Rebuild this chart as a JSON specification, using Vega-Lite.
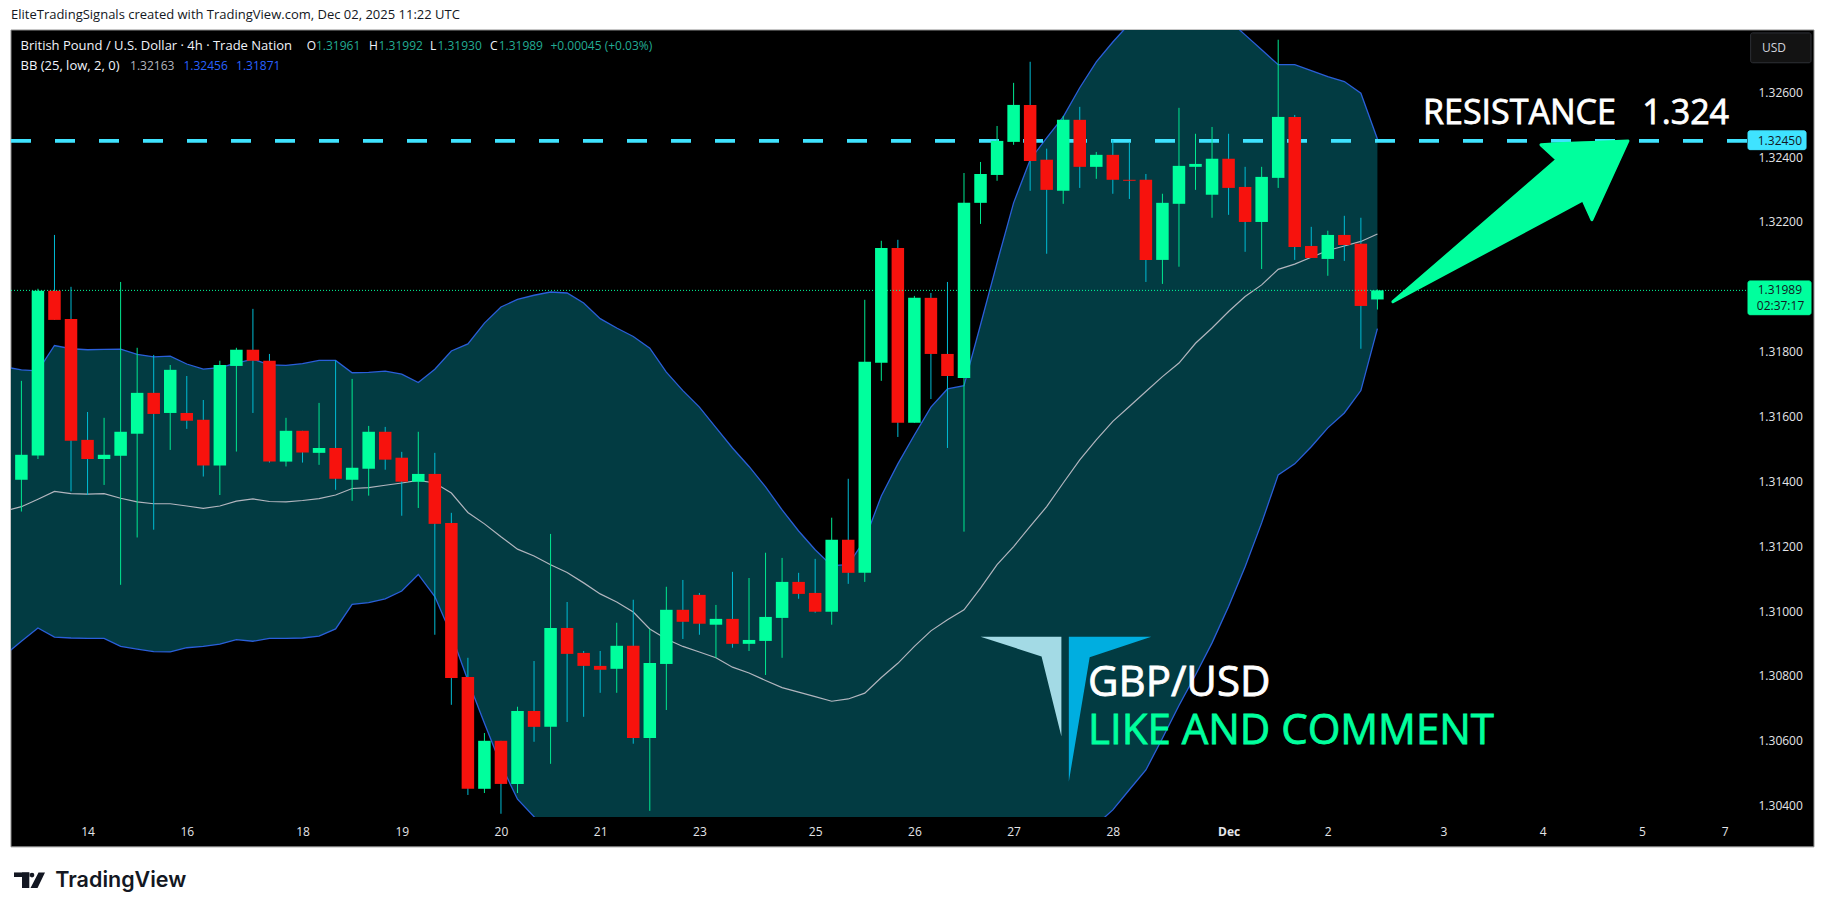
{
  "$schema": "https://vega.github.io/schema/vega-lite/v6.json",
  "description": "GBP/USD 4h candles with Bollinger Bands",
  "width": 1737,
  "height": 787,
  "autosize": "none",
  "padding": {"left": 11, "top": 30, "right": 78, "bottom": 97},
  "background": "#ffffff",
  "title": {
    "text": "EliteTradingSignals created with TradingView.com, Dec 02, 2025 11:22 UTC",
    "anchor": "start", "frame": "group", "fontSize": 13, "fontWeight": "normal",
    "font": "Open Sans", "color": "#131722", "offset": 8
  },
  "config": {"view": {"stroke": null}},
  "resolve": {"scale": {"color": "independent", "stroke": "independent"}},
  "datasets": {
    "panel": [{"i": -0.629, "i2": 108.4, "top": 1.32792, "bot": 1.30273}],
    "candles": [
      {"i":0,"open":1.31405,"high":1.3171,"low":1.31307,"close":1.31482},
      {"i":1,"open":1.3148,"high":1.31994,"low":1.31469,"close":1.31988},
      {"i":2,"open":1.31988,"high":1.3216,"low":1.31898,"close":1.31898},
      {"i":3,"open":1.31901,"high":1.32,"low":1.31369,"close":1.31525},
      {"i":4,"open":1.31528,"high":1.31614,"low":1.31358,"close":1.31469},
      {"i":5,"open":1.31469,"high":1.31596,"low":1.31389,"close":1.31482},
      {"i":6,"open":1.31479,"high":1.32015,"low":1.31081,"close":1.31553},
      {"i":7,"open":1.31547,"high":1.31812,"low":1.31227,"close":1.31673},
      {"i":8,"open":1.31673,"high":1.3179,"low":1.31251,"close":1.31608},
      {"i":9,"open":1.31611,"high":1.31759,"low":1.31497,"close":1.31744},
      {"i":10,"open":1.31611,"high":1.31725,"low":1.31562,"close":1.31587},
      {"i":11,"open":1.3159,"high":1.31651,"low":1.31415,"close":1.31449},
      {"i":12,"open":1.31449,"high":1.31772,"low":1.31358,"close":1.31759},
      {"i":13,"open":1.31756,"high":1.31812,"low":1.31492,"close":1.31806},
      {"i":14,"open":1.31806,"high":1.31932,"low":1.31611,"close":1.31772},
      {"i":15,"open":1.31772,"high":1.31793,"low":1.31458,"close":1.31461},
      {"i":16,"open":1.31461,"high":1.31596,"low":1.31446,"close":1.31556},
      {"i":17,"open":1.31556,"high":1.31556,"low":1.31458,"close":1.31489},
      {"i":18,"open":1.31488,"high":1.31642,"low":1.31451,"close":1.31503},
      {"i":19,"open":1.31503,"high":1.31773,"low":1.31374,"close":1.31408},
      {"i":20,"open":1.31405,"high":1.31716,"low":1.3134,"close":1.31442},
      {"i":21,"open":1.31439,"high":1.31571,"low":1.31356,"close":1.31553},
      {"i":22,"open":1.31553,"high":1.31568,"low":1.31436,"close":1.31467},
      {"i":23,"open":1.31473,"high":1.31491,"low":1.31294,"close":1.31399},
      {"i":24,"open":1.31399,"high":1.31553,"low":1.31318,"close":1.31423},
      {"i":25,"open":1.31423,"high":1.31488,"low":1.30927,"close":1.31269},
      {"i":26,"open":1.31272,"high":1.31303,"low":1.30711,"close":1.30794},
      {"i":27,"open":1.30797,"high":1.30856,"low":1.30433,"close":1.30452},
      {"i":28,"open":1.30452,"high":1.30624,"low":1.30439,"close":1.306},
      {"i":29,"open":1.306,"high":1.306,"low":1.30375,"close":1.30467},
      {"i":30,"open":1.30467,"high":1.30705,"low":1.30439,"close":1.30692},
      {"i":31,"open":1.30692,"high":1.30846,"low":1.30597,"close":1.30643},
      {"i":32,"open":1.30643,"high":1.31238,"low":1.30529,"close":1.30948},
      {"i":33,"open":1.30948,"high":1.31028,"low":1.30658,"close":1.30868},
      {"i":34,"open":1.30871,"high":1.30877,"low":1.30674,"close":1.30831},
      {"i":35,"open":1.30831,"high":1.30877,"low":1.30748,"close":1.30819},
      {"i":36,"open":1.30822,"high":1.30964,"low":1.30748,"close":1.30893},
      {"i":37,"open":1.30893,"high":1.31035,"low":1.30591,"close":1.30609},
      {"i":38,"open":1.30609,"high":1.30945,"low":1.30384,"close":1.3084},
      {"i":39,"open":1.30837,"high":1.31075,"low":1.30695,"close":1.31004},
      {"i":40,"open":1.31004,"high":1.31096,"low":1.30914,"close":1.30967},
      {"i":41,"open":1.3105,"high":1.31056,"low":1.30927,"close":1.30961},
      {"i":42,"open":1.30958,"high":1.31019,"low":1.30856,"close":1.30976},
      {"i":43,"open":1.30976,"high":1.31121,"low":1.30887,"close":1.30899},
      {"i":44,"open":1.30899,"high":1.31102,"low":1.30877,"close":1.30911},
      {"i":45,"open":1.30908,"high":1.3118,"low":1.30803,"close":1.30982},
      {"i":46,"open":1.30979,"high":1.31164,"low":1.30856,"close":1.3109},
      {"i":47,"open":1.3109,"high":1.31118,"low":1.31038,"close":1.31053},
      {"i":48,"open":1.31056,"high":1.31161,"low":1.30995,"close":1.30998},
      {"i":49,"open":1.30998,"high":1.31288,"low":1.30958,"close":1.3122},
      {"i":50,"open":1.3122,"high":1.31408,"low":1.31084,"close":1.31118},
      {"i":51,"open":1.31118,"high":1.3196,"low":1.3109,"close":1.31769},
      {"i":52,"open":1.31766,"high":1.32142,"low":1.3171,"close":1.3212},
      {"i":53,"open":1.3212,"high":1.32145,"low":1.31537,"close":1.31581},
      {"i":54,"open":1.31581,"high":1.31972,"low":1.31581,"close":1.31966},
      {"i":55,"open":1.31966,"high":1.31981,"low":1.31654,"close":1.31793},
      {"i":56,"open":1.31793,"high":1.32015,"low":1.31503,"close":1.31725},
      {"i":57,"open":1.31719,"high":1.32351,"low":1.31245,"close":1.32259},
      {"i":58,"open":1.32259,"high":1.32385,"low":1.32194,"close":1.32348},
      {"i":59,"open":1.32345,"high":1.32496,"low":1.32327,"close":1.3245},
      {"i":60,"open":1.32447,"high":1.32629,"low":1.32438,"close":1.32561},
      {"i":61,"open":1.32561,"high":1.32694,"low":1.32296,"close":1.32388},
      {"i":62,"open":1.32392,"high":1.32426,"low":1.32102,"close":1.32299},
      {"i":63,"open":1.32296,"high":1.32527,"low":1.32256,"close":1.32515},
      {"i":64,"open":1.32515,"high":1.32555,"low":1.32305,"close":1.3237},
      {"i":65,"open":1.3237,"high":1.32416,"low":1.32333,"close":1.32407},
      {"i":66,"open":1.32407,"high":1.32453,"low":1.32287,"close":1.3233},
      {"i":67,"open":1.3233,"high":1.32444,"low":1.32271,"close":1.32327},
      {"i":68,"open":1.3233,"high":1.32348,"low":1.32015,"close":1.32083},
      {"i":69,"open":1.32083,"high":1.32287,"low":1.32009,"close":1.32259},
      {"i":70,"open":1.32256,"high":1.32552,"low":1.32062,"close":1.32373},
      {"i":71,"open":1.3237,"high":1.32472,"low":1.32299,"close":1.32379},
      {"i":72,"open":1.32284,"high":1.32493,"low":1.32213,"close":1.32395},
      {"i":73,"open":1.32395,"high":1.32472,"low":1.32222,"close":1.32305},
      {"i":74,"open":1.32308,"high":1.3237,"low":1.32108,"close":1.322},
      {"i":75,"open":1.322,"high":1.3237,"low":1.32055,"close":1.32339},
      {"i":76,"open":1.32336,"high":1.32762,"low":1.32305,"close":1.32524},
      {"i":77,"open":1.32524,"high":1.3253,"low":1.32083,"close":1.32123},
      {"i":78,"open":1.32126,"high":1.32185,"low":1.32089,"close":1.32089},
      {"i":79,"open":1.32086,"high":1.32173,"low":1.32034,"close":1.3216},
      {"i":80,"open":1.3216,"high":1.32219,"low":1.3208,"close":1.32129},
      {"i":81,"open":1.32133,"high":1.32213,"low":1.31809,"close":1.31941},
      {"i":82,"open":1.31961,"high":1.31992,"low":1.3193,"close":1.31989}
    ],
    "bb": [
      {"i":-1,"upper":1.31753,"basis":1.31309,"lower":1.30865},
      {"i":0,"upper":1.31744,"basis":1.31322,"lower":1.30907},
      {"i":1,"upper":1.31741,"basis":1.31345,"lower":1.30948},
      {"i":2,"upper":1.31819,"basis":1.31369,"lower":1.3092},
      {"i":3,"upper":1.31809,"basis":1.31362,"lower":1.30917},
      {"i":4,"upper":1.31806,"basis":1.31361,"lower":1.30916},
      {"i":5,"upper":1.31807,"basis":1.31362,"lower":1.30916},
      {"i":6,"upper":1.31808,"basis":1.31348,"lower":1.30891},
      {"i":7,"upper":1.31792,"basis":1.31337,"lower":1.30883},
      {"i":8,"upper":1.31784,"basis":1.31331,"lower":1.30875},
      {"i":9,"upper":1.31786,"basis":1.31331,"lower":1.30874},
      {"i":10,"upper":1.31762,"basis":1.31324,"lower":1.30887},
      {"i":11,"upper":1.31746,"basis":1.31317,"lower":1.30891},
      {"i":12,"upper":1.31751,"basis":1.31324,"lower":1.30898},
      {"i":13,"upper":1.31765,"basis":1.31339,"lower":1.30912},
      {"i":14,"upper":1.31777,"basis":1.31346,"lower":1.30907},
      {"i":15,"upper":1.31759,"basis":1.31338,"lower":1.30916},
      {"i":16,"upper":1.31758,"basis":1.31337,"lower":1.30916},
      {"i":17,"upper":1.31763,"basis":1.31341,"lower":1.30917},
      {"i":18,"upper":1.31773,"basis":1.31347,"lower":1.30923},
      {"i":19,"upper":1.31773,"basis":1.31358,"lower":1.30945},
      {"i":20,"upper":1.31735,"basis":1.31378,"lower":1.31021},
      {"i":21,"upper":1.31736,"basis":1.31381,"lower":1.31026},
      {"i":22,"upper":1.3174,"basis":1.31388,"lower":1.31038},
      {"i":23,"upper":1.31731,"basis":1.31395,"lower":1.31062},
      {"i":24,"upper":1.31705,"basis":1.31403,"lower":1.31113},
      {"i":25,"upper":1.31746,"basis":1.31395,"lower":1.31045},
      {"i":26,"upper":1.31802,"basis":1.31364,"lower":1.30927},
      {"i":27,"upper":1.31824,"basis":1.31304,"lower":1.30786},
      {"i":28,"upper":1.31888,"basis":1.31269,"lower":1.30654},
      {"i":29,"upper":1.31938,"basis":1.31229,"lower":1.30526},
      {"i":30,"upper":1.31961,"basis":1.31191,"lower":1.3042},
      {"i":31,"upper":1.31974,"basis":1.3117,"lower":1.30366},
      {"i":32,"upper":1.31984,"basis":1.31143,"lower":1.30301},
      {"i":33,"upper":1.31981,"basis":1.31119,"lower":1.30257},
      {"i":34,"upper":1.3195,"basis":1.31087,"lower":1.30224},
      {"i":35,"upper":1.31902,"basis":1.31053,"lower":1.30205},
      {"i":36,"upper":1.31873,"basis":1.31028,"lower":1.30183},
      {"i":37,"upper":1.31847,"basis":1.30997,"lower":1.30146},
      {"i":38,"upper":1.31811,"basis":1.30945,"lower":1.30079},
      {"i":39,"upper":1.31737,"basis":1.30914,"lower":1.30091},
      {"i":40,"upper":1.3168,"basis":1.30891,"lower":1.301},
      {"i":41,"upper":1.31629,"basis":1.30874,"lower":1.30119},
      {"i":42,"upper":1.31566,"basis":1.30856,"lower":1.30146},
      {"i":43,"upper":1.31503,"basis":1.30827,"lower":1.3015},
      {"i":44,"upper":1.31446,"basis":1.30809,"lower":1.30171},
      {"i":45,"upper":1.31383,"basis":1.30786,"lower":1.3019},
      {"i":46,"upper":1.31312,"basis":1.30764,"lower":1.30217},
      {"i":47,"upper":1.31247,"basis":1.3075,"lower":1.30251},
      {"i":48,"upper":1.31189,"basis":1.30736,"lower":1.30285},
      {"i":49,"upper":1.3114,"basis":1.30722,"lower":1.30307},
      {"i":50,"upper":1.31143,"basis":1.30729,"lower":1.30316},
      {"i":51,"upper":1.3122,"basis":1.30747,"lower":1.30276},
      {"i":52,"upper":1.31355,"basis":1.30795,"lower":1.30236},
      {"i":53,"upper":1.31454,"basis":1.30839,"lower":1.30227},
      {"i":54,"upper":1.31543,"basis":1.30891,"lower":1.30239},
      {"i":55,"upper":1.31629,"basis":1.30939,"lower":1.30248},
      {"i":56,"upper":1.31685,"basis":1.30973,"lower":1.3026},
      {"i":57,"upper":1.31695,"basis":1.31004,"lower":1.30313},
      {"i":58,"upper":1.31883,"basis":1.31071,"lower":1.3026},
      {"i":59,"upper":1.32074,"basis":1.31143,"lower":1.30211},
      {"i":60,"upper":1.32259,"basis":1.31199,"lower":1.3014},
      {"i":61,"upper":1.32392,"basis":1.31261,"lower":1.30131},
      {"i":62,"upper":1.32459,"basis":1.31322,"lower":1.30187},
      {"i":63,"upper":1.32524,"basis":1.31395,"lower":1.30267},
      {"i":64,"upper":1.32614,"basis":1.31466,"lower":1.30319},
      {"i":65,"upper":1.32694,"basis":1.31528,"lower":1.30341},
      {"i":66,"upper":1.32755,"basis":1.31585,"lower":1.30387},
      {"i":67,"upper":1.32811,"basis":1.31631,"lower":1.30449},
      {"i":68,"upper":1.32848,"basis":1.31677,"lower":1.3051},
      {"i":69,"upper":1.3287,"basis":1.31723,"lower":1.30608},
      {"i":70,"upper":1.3287,"basis":1.31765,"lower":1.30709},
      {"i":71,"upper":1.32867,"basis":1.31826,"lower":1.30803},
      {"i":72,"upper":1.32848,"basis":1.31873,"lower":1.30902},
      {"i":73,"upper":1.32823,"basis":1.31924,"lower":1.31014},
      {"i":74,"upper":1.32777,"basis":1.3197,"lower":1.31137},
      {"i":75,"upper":1.32731,"basis":1.32006,"lower":1.31272},
      {"i":76,"upper":1.32685,"basis":1.32054,"lower":1.3142},
      {"i":77,"upper":1.32685,"basis":1.3207,"lower":1.31454},
      {"i":78,"upper":1.32667,"basis":1.32091,"lower":1.31507},
      {"i":79,"upper":1.32648,"basis":1.32112,"lower":1.31565},
      {"i":80,"upper":1.32633,"basis":1.32126,"lower":1.31611},
      {"i":81,"upper":1.32597,"basis":1.3214,"lower":1.3168},
      {"i":82,"upper":1.32456,"basis":1.32163,"lower":1.31871}
    ],
    "levels": [
      {"name": "resistance", "i": -0.629, "i2": 104.41, "price": 1.3245},
      {"name": "last", "i": -0.629, "i2": 104.41, "price": 1.31989}
    ],
    "shapes": [
      {"part": "arrowShaft", "i": 82.94, "top": 1.31954, "bot": 1.31954},
      {"part": "arrowShaft", "i": 92.86, "top": 1.32392, "bot": 1.32225},
      {"part": "arrowShaft", "i": 94.43, "top": 1.32392, "bot": 1.32268},
      {"part": "arrowHead", "i": 91.89, "top": 1.32438, "bot": 1.32438},
      {"part": "arrowHead", "i": 92.86, "top": 1.32441, "bot": 1.32392},
      {"part": "arrowHead", "i": 94.43, "top": 1.32444, "bot": 1.32268},
      {"part": "arrowHead", "i": 94.97, "top": 1.32445, "bot": 1.32207},
      {"part": "arrowHead", "i": 97.15, "top": 1.3245, "bot": 1.3245}
    ],
    "logo": [
      {"part": "wingLight", "i": 58.0, "top": 1.30921, "bot": 1.30921},
      {"part": "wingLight", "i": 61.69, "top": 1.30921, "bot": 1.3086},
      {"part": "wingLight", "i": 62.89, "top": 1.30921, "bot": 1.30613},
      {"part": "wingBlue", "i": 63.34, "top": 1.30921, "bot": 1.30474},
      {"part": "wingBlue", "i": 64.6, "top": 1.30921, "bot": 1.30858},
      {"part": "wingBlue", "i": 68.33, "top": 1.30921, "bot": 1.30921},
      {"part": "tvBar", "i": -0.447, "top": 1.30194, "bot": 1.3018},
      {"part": "tvBar", "i": 0.478, "top": 1.30194, "bot": 1.3018},
      {"part": "tvStem", "i": 0.036, "top": 1.30194, "bot": 1.30146},
      {"part": "tvStem", "i": 0.478, "top": 1.30194, "bot": 1.30146},
      {"part": "tvSlash", "i": 0.55, "top": 1.30146, "bot": 1.30146},
      {"part": "tvSlash", "i": 0.974, "top": 1.30188, "bot": 1.30146},
      {"part": "tvSlash", "i": 1.034, "top": 1.30194, "bot": 1.30152},
      {"part": "tvSlash", "i": 1.427, "top": 1.30194, "bot": 1.30194}
    ],
    "boxes": [
      {"kind": "usd", "i": 104.57, "i2": 108.22, "top": 1.32783, "bot": 1.32691},
      {"kind": "resistance", "i": 104.41, "i2": 107.92, "top": 1.32481, "bot": 1.32423},
      {"kind": "last", "i": 104.41, "i2": 108.22, "top": 1.32018, "bot": 1.31914}
    ],
    "labels": [
      {"kind": "title", "label": "British Pound / U.S. Dollar · 4h · Trade Nation", "i": -0.054, "price": 1.32743},
      {"kind": "text", "label": "O", "i": 17.25, "price": 1.32743},
      {"kind": "change", "label": "1.31961", "i": 17.81, "price": 1.32743},
      {"kind": "text", "label": "H", "i": 21.02, "price": 1.32743},
      {"kind": "change", "label": "1.31992", "i": 21.6, "price": 1.32743},
      {"kind": "text", "label": "L", "i": 24.71, "price": 1.32743},
      {"kind": "change", "label": "1.31930", "i": 25.16, "price": 1.32743},
      {"kind": "text", "label": "C", "i": 28.34, "price": 1.32743},
      {"kind": "change", "label": "1.31989", "i": 28.86, "price": 1.32743},
      {"kind": "change", "label": "+0.00045 (+0.03%)", "i": 31.99, "price": 1.32743},
      {"kind": "title", "label": "BB (25, low, 2, 0)", "i": -0.054, "price": 1.32682},
      {"kind": "basis", "label": "1.32163", "i": 6.57, "price": 1.32682},
      {"kind": "band", "label": "1.32456", "i": 9.8, "price": 1.32682},
      {"kind": "band", "label": "1.31871", "i": 12.98, "price": 1.32682},
      {"kind": "axis", "label": "USD", "i": 105.25, "price": 1.32737},
      {"kind": "tag", "label": "1.32450", "i": 105.0, "price": 1.3245},
      {"kind": "tag", "label": "1.31989", "i": 105.0, "price": 1.31989},
      {"kind": "tag", "label": "02:37:17", "i": 104.94, "price": 1.31942}
    ],
    "callouts": [
      {"kind": "white", "label": "RESISTANCE \u00a0 1.324", "i": 84.76, "price": 1.32533, "size": 34},
      {"kind": "white", "label": "GBP/USD", "i": 64.5, "price": 1.30779, "size": 42},
      {"kind": "green", "label": "LIKE AND COMMENT", "i": 64.5, "price": 1.30629, "size": 42}
    ]
  },
  "encoding": {
    "x": {
      "field": "i",
      "type": "quantitative",
      "scale": {"domain": [-0.629, 104.41], "nice": false, "zero": false, "padding": 0},
      "axis": {
        "title": null, "grid": false, "domain": false, "ticks": false, "zindex": 1,
        "values": [4, 10, 17, 23, 29, 35, 41, 48, 54, 60, 66, 73, 79, 86, 92, 98, 103],
        "labelExpr": "{'4':'14','10':'16','17':'18','23':'19','29':'20','35':'21','41':'23','48':'25','54':'26','60':'27','66':'28','73':'Dec','79':'2','86':'3','92':'4','98':'5','103':'7'}[datum.value]",
        "labelFont": "Open Sans", "labelFontSize": 12, "labelColor": "#e4e5e8",
        "labelPadding": 9, "labelOverlap": false, "labelFlush": false,
        "labelFontWeight": {"condition": {"test": "datum.value == 73", "value": "bold"}, "value": "normal"}
      }
    }
  },
  "layer": [
    {
      "data": {"name": "panel"},
      "mark": {"type": "rect", "fill": "#000000", "stroke": "#8c8c8c", "strokeWidth": 1},
      "encoding": {
        "x2": {"field": "i2"},
        "y": {
          "field": "top", "type": "quantitative",
          "scale": {"domain": [1.30365, 1.32792], "nice": false, "zero": false},
          "axis": {
            "title": null, "orient": "right", "grid": false, "domain": false, "ticks": false, "zindex": 1,
            "values": [1.304, 1.306, 1.308, 1.31, 1.312, 1.314, 1.316, 1.318, 1.322, 1.324, 1.326],
            "format": ".5f", "labelFont": "Open Sans", "labelFontSize": 12, "labelColor": "#e4e5e8",
            "labelPadding": 10, "labelOverlap": false, "labelFlush": false
          }
        },
        "y2": {"field": "bot"}
      }
    },
    {
      "data": {"name": "bb"},
      "mark": {"type": "area", "fill": "#023b42", "clip": true},
      "encoding": {
        "y": {"field": "upper", "type": "quantitative", "axis": {"orient": "right", "title": null}},
        "y2": {"field": "lower"}
      }
    },
    {
      "data": {"name": "bb"},
      "mark": {"type": "line", "stroke": "#2a5fd9", "strokeWidth": 1.3, "clip": true},
      "encoding": {"y": {"field": "upper", "type": "quantitative", "axis": {"orient": "right", "title": null}}}
    },
    {
      "data": {"name": "bb"},
      "mark": {"type": "line", "stroke": "#2a5fd9", "strokeWidth": 1.3, "clip": true},
      "encoding": {"y": {"field": "lower", "type": "quantitative", "axis": {"orient": "right", "title": null}}}
    },
    {
      "data": {"name": "bb"},
      "mark": {"type": "line", "stroke": "#b2b5be", "strokeWidth": 1.2, "clip": true},
      "encoding": {"y": {"field": "basis", "type": "quantitative", "axis": {"orient": "right", "title": null}}}
    },
    {
      "data": {"name": "levels"},
      "transform": [{"filter": "datum.name == 'resistance'"}],
      "mark": {"type": "rule", "stroke": "#3fe3ff", "strokeWidth": 3.6, "strokeDash": [20, 24]},
      "encoding": {
        "x2": {"field": "i2"},
        "y": {"field": "price", "type": "quantitative", "axis": {"orient": "right", "title": null}}
      }
    },
    {
      "data": {"name": "candles"},
      "mark": {"type": "rule", "strokeWidth": 1},
      "encoding": {
        "y": {"field": "high", "type": "quantitative", "axis": {"orient": "right", "title": null}},
        "y2": {"field": "low"},
        "color": {"condition": {"test": "datum.close >= datum.open", "value": "#00e890"}, "value": "#00bcd4"}
      }
    },
    {
      "data": {"name": "candles"},
      "mark": {"type": "bar", "size": 12.5, "orient": "vertical"},
      "encoding": {
        "y": {"field": "open", "type": "quantitative", "axis": {"orient": "right", "title": null}},
        "y2": {"field": "close"},
        "color": {"condition": {"test": "datum.close >= datum.open", "value": "#00ff9d"}, "value": "#f7120d"}
      }
    },
    {
      "data": {"name": "levels"},
      "transform": [{"filter": "datum.name == 'last'"}],
      "mark": {"type": "rule", "stroke": "#00ff9d", "strokeWidth": 1, "strokeDash": [1, 2]},
      "encoding": {
        "x2": {"field": "i2"},
        "y": {"field": "price", "type": "quantitative", "axis": {"orient": "right", "title": null}}
      }
    },
    {
      "data": {"name": "shapes"},
      "mark": {"type": "area", "fill": "#00ff9d", "stroke": "#00ff9d", "strokeWidth": 3, "strokeJoin": "round"},
      "encoding": {
        "detail": {"field": "part", "type": "nominal"},
        "y": {"field": "top", "type": "quantitative", "axis": {"orient": "right", "title": null}},
        "y2": {"field": "bot"}
      }
    },
    {
      "data": {"name": "logo"},
      "mark": {"type": "area"},
      "encoding": {
        "y": {"field": "top", "type": "quantitative", "axis": {"orient": "right", "title": null}},
        "y2": {"field": "bot"},
        "color": {
          "field": "part", "type": "nominal", "legend": null,
          "scale": {
            "domain": ["wingLight", "wingBlue", "tvBar", "tvStem", "tvSlash"],
            "range": ["#a3dae5", "#00aee0", "#131722", "#131722", "#131722"]
          }
        }
      }
    },
    {
      "data": {"values": [{"i": 0.641, "price": 1.30186}]},
      "mark": {"type": "circle", "size": 22, "color": "#131722", "opacity": 1},
      "encoding": {"y": {"field": "price", "type": "quantitative", "axis": {"orient": "right", "title": null}}}
    },
    {
      "data": {"values": [{"i": 2.05, "price": 1.30168, "label": "TradingView"}]},
      "mark": {"type": "text", "align": "left", "baseline": "middle", "font": "Inter", "fontWeight": 600, "fontSize": 21.5, "color": "#131722"},
      "encoding": {
        "y": {"field": "price", "type": "quantitative", "axis": {"orient": "right", "title": null}},
        "text": {"field": "label"}
      }
    },
    {
      "data": {"name": "boxes"},
      "mark": {"type": "rect", "cornerRadius": 2},
      "encoding": {
        "x2": {"field": "i2"},
        "y": {"field": "top", "type": "quantitative", "axis": {"orient": "right", "title": null}},
        "y2": {"field": "bot"},
        "fill": {
          "field": "kind", "type": "nominal", "legend": null,
          "scale": {"domain": ["usd", "resistance", "last"], "range": ["#131313", "#3fe3ff", "#00ff9d"]}
        },
        "stroke": {
          "field": "kind", "type": "nominal", "legend": null,
          "scale": {"domain": ["usd", "resistance", "last"], "range": ["#2e3036", "#3fe3ff", "#00ff9d"]}
        }
      }
    },
    {
      "data": {"name": "labels"},
      "mark": {"type": "text", "align": "left", "baseline": "middle", "font": "Open Sans"},
      "encoding": {
        "y": {"field": "price", "type": "quantitative", "axis": {"orient": "right", "title": null}},
        "text": {"field": "label"},
        "size": {"condition": {"test": "datum.kind == 'title'", "value": 13}, "value": 12},
        "color": {
          "field": "kind", "type": "nominal", "legend": null,
          "scale": {
            "domain": ["title", "text", "change", "basis", "band", "axis", "tag"],
            "range": ["#f0f3fa", "#f0f3fa", "#22ab94", "#b2b5be", "#2962ff", "#d1d4dc", "#131722"]
          }
        }
      }
    },
    {
      "data": {"name": "callouts"},
      "mark": {"type": "text", "align": "left", "baseline": "middle", "font": "Open Sans", "strokeWidth": 0.8},
      "encoding": {
        "y": {"field": "price", "type": "quantitative", "axis": {"orient": "right", "title": null}},
        "text": {"field": "label"},
        "size": {"field": "size", "type": "quantitative", "scale": null},
        "color": {
          "field": "kind", "type": "nominal", "legend": null,
          "scale": {"domain": ["white", "green"], "range": ["#ffffff", "#00ff9d"]}
        },
        "stroke": {
          "field": "kind", "type": "nominal", "legend": null,
          "scale": {"domain": ["white", "green"], "range": ["#ffffff", "#00ff9d"]}
        }
      }
    }
  ]
}
